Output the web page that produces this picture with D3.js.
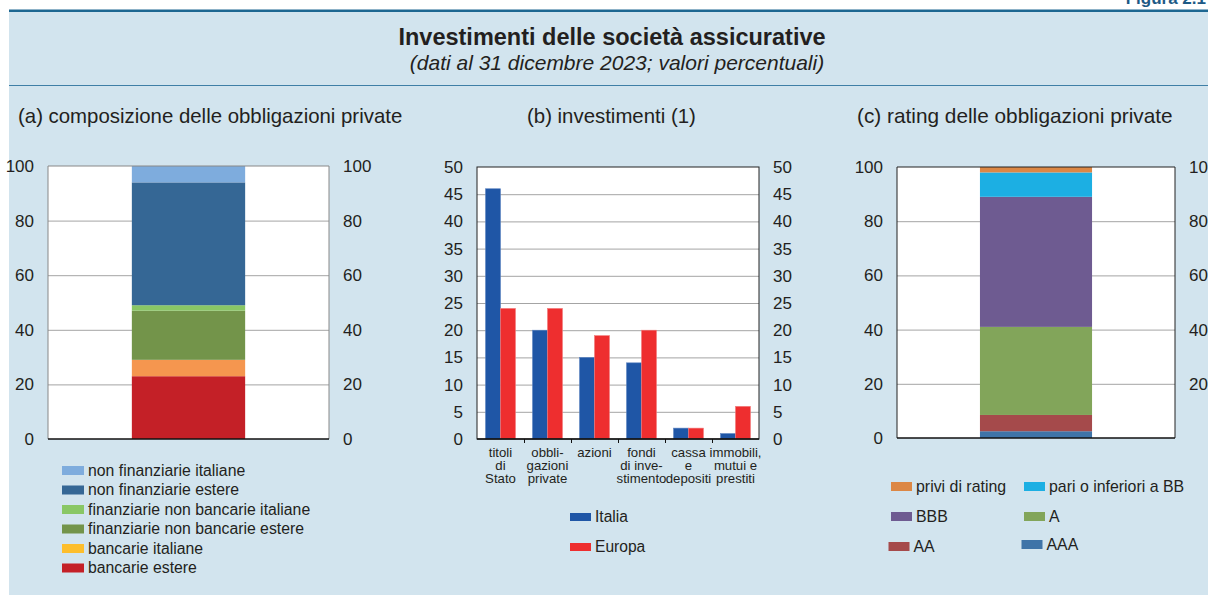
<!DOCTYPE html>
<html>
<head>
<meta charset="utf-8">
<script src="https://cdn.jsdelivr.net/npm/d3@7"></script>
<style>
  body { margin: 0; background: #fff; }
  svg text { font-family: "Liberation Sans", Arial, sans-serif; fill: #231f20; }
</style>
</head>
<body>
<div id="chart"></div>
<script>
// ---- data ----
// (a) composizione delle obbligazioni private (bottom -> top)
var compKeys = ["bancarie estere", "bancarie italiane", "finanziarie non bancarie estere",
    "finanziarie non bancarie italiane", "non finanziarie estere", "non finanziarie italiane"];
var compValues = [23, 6, 18, 2, 45, 6];
var compColors = ["#c42027", "#f5964f", "#73944a", "#89c765", "#356795", "#7eacdd"];
// legend swatches (as printed in the original, top -> bottom)
var compLegend = ["non finanziarie italiane", "non finanziarie estere", "finanziarie non bancarie italiane",
    "finanziarie non bancarie estere", "bancarie italiane", "bancarie estere"];
var compLegendColors = ["#7eacdd", "#356795", "#89c765", "#73944a", "#fdbe2c", "#c42027"];

// (b) investimenti
var invCategories = ["titoli di Stato", "obbligazioni private", "azioni", "fondi di investimento",
    "cassa e depositi", "immobili, mutui e prestiti"];
var invLabels = [["titoli", "di", "Stato"], ["obbli-", "gazioni", "private"], ["azioni"],
    ["fondi", "di inve-", "stimento"], ["cassa", "e", "depositi"], ["immobili,", "mutui e", "prestiti"]];
var invSeries = ["Italia", "Europa"];
var italia = [46, 20, 15, 14, 2, 1];
var europa = [24, 24, 19, 20, 2, 6];
var invColors = ["#1f56a6", "#ee2e2f"];

// (c) rating delle obbligazioni private (bottom -> top)
var ratingKeys = ["AAA", "AA", "A", "BBB", "pari o inferiori a BB", "privi di rating"];
var ratingValues = [2.5, 6, 32.5, 48, 9, 2];
var ratingColors = ["#3f74a8", "#a54a4b", "#82a55a", "#6e5b91", "#1cafe3", "#dc8745"];
var ratingLegend = ["privi di rating", "pari o inferiori a BB", "BBB", "A", "AA", "AAA"];

var ticks100 = [0, 20, 40, 60, 80, 100];
var ticks50 = d3.range(0, 55, 5);

// ---- frame ----
var W = 1208, H = 595;
var svg = d3.select("#chart").append("svg")
    .attr("width", W)
    .attr("height", H);

svg.append("rect").attr("x", 9).attr("y", 11).attr("width", W - 9).attr("height", H - 11)
    .attr("fill", "#d2e4ee");
svg.append("rect").attr("x", 9).attr("y", 9.5).attr("width", W - 9).attr("height", 2.5)
    .attr("fill", "#1d6791");
svg.append("line").attr("x1", 9).attr("x2", W).attr("y1", 85.5).attr("y2", 85.5)
    .attr("stroke", "#3f7fa6").attr("stroke-width", 1);

svg.append("text").attr("x", 1206).attr("y", 4).attr("text-anchor", "end").text("Figura 2.1")
    .style("font-size", "17px").style("font-weight", "bold").style("fill", "#1d5a86");

svg.append("text").attr("x", 612).attr("y", 45).attr("text-anchor", "middle")
    .text("Investimenti delle società assicurative")
    .style("font-size", "23.5px").style("font-weight", "bold");
svg.append("text").attr("x", 617).attr("y", 70).attr("text-anchor", "middle")
    .text("(dati al 31 dicembre 2023; valori percentuali)")
    .style("font-size", "21px").style("font-style", "italic");

svg.append("text").attr("x", 18).attr("y", 123).text("(a) composizione delle obbligazioni private")
    .style("font-size", "20.4px");
svg.append("text").attr("x", 527).attr("y", 123).text("(b) investimenti (1)")
    .style("font-size", "20.4px");
svg.append("text").attr("x", 857).attr("y", 123).text("(c) rating delle obbligazioni private")
    .style("font-size", "20.8px");

// ---- helpers ----
function drawYAxes(g, y, left, right, leftTicks, rightTicks) {
    g.append("g")
        .attr("transform", "translate(" + (left - 14) + ",0)")
        .call(d3.axisLeft(y).tickValues(leftTicks).tickSize(0).tickPadding(0))
        .call(function (a) { a.select(".domain").remove(); })
        .selectAll("text").style("font-size", "17px").attr("fill", "#231f20");
    g.append("g")
        .attr("transform", "translate(" + (right + 14) + ",0)")
        .call(d3.axisRight(y).tickValues(rightTicks).tickSize(0).tickPadding(0))
        .call(function (a) { a.select(".domain").remove(); })
        .selectAll("text").style("font-size", "17px").attr("fill", "#231f20");
}

function drawGrid(g, y, left, right, values) {
    g.selectAll(".grid")
        .data(values)
        .enter().append("line")
        .attr("x1", left).attr("x2", right)
        .attr("y1", function (d) { return y(d) + 0.5; })
        .attr("y2", function (d) { return y(d) + 0.5; })
        .attr("stroke", "#a4a4a4").attr("stroke-width", 1);
}

function stackedPanel(box, keys, values, colors, rightTicks, frameColor) {
    var g = svg.append("g");
    var y = d3.scaleLinear().domain([0, 100]).range([box.bottom, box.top]);
    var x = d3.scaleBand().domain(["tot"]).range([box.left, box.right])
        .paddingInner(0).paddingOuter(0.74);

    g.append("rect").attr("x", box.left).attr("y", box.top)
        .attr("width", box.right - box.left).attr("height", box.bottom - box.top)
        .attr("fill", "#fff");
    drawGrid(g, y, box.left, box.right, [20, 40, 60, 80]);

    var row = {};
    keys.forEach(function (k, i) { row[k] = values[i]; });
    var stacked = d3.stack().keys(keys)([row]);

    g.selectAll(".seg")
        .data(stacked)
        .enter().append("rect")
        .attr("x", x("tot"))
        .attr("width", x.bandwidth())
        .attr("y", function (d) { return y(d[0][1]); })
        .attr("height", function (d) { return y(d[0][0]) - y(d[0][1]); })
        .attr("fill", function (d, i) { return colors[i]; });

    g.append("path")
        .attr("d", "M" + box.left + "," + box.bottom + "V" + box.top + "H" + box.right + "V" + box.bottom)
        .attr("fill", "none").attr("stroke", frameColor).attr("stroke-width", 1);
    g.append("line").attr("x1", box.left).attr("x2", box.right)
        .attr("y1", box.bottom).attr("y2", box.bottom)
        .attr("stroke", "#111").attr("stroke-width", 1.5);

    drawYAxes(g, y, box.left, box.right, ticks100, rightTicks);
}

// ---- (a) ----
stackedPanel({left: 48, right: 329, top: 166, bottom: 439},
    compKeys, compValues, compColors, ticks100, "#888");

var legA = svg.append("g").selectAll("g")
    .data(compLegend)
    .enter().append("g")
    .attr("transform", function (d, i) { return "translate(62," + (470 + i * 19.5) + ")"; });
legA.append("rect").attr("x", 0).attr("y", -4).attr("width", 22).attr("height", 9)
    .attr("fill", function (d, i) { return compLegendColors[i]; });
legA.append("text").attr("x", 26).attr("dy", "0.35em").text(function (d) { return d; })
    .style("font-size", "15.8px");

// ---- (b) ----
(function () {
    var box = {left: 477, right: 759, top: 167, bottom: 439};
    var g = svg.append("g");
    var y = d3.scaleLinear().domain([0, 50]).range([box.bottom, box.top]);
    var x = d3.scaleBand().domain(invCategories).range([box.left, box.right]).padding(0);
    var xs = d3.scaleBand().domain(invSeries).range([0, x.bandwidth()])
        .paddingInner(0).paddingOuter(0.57);

    g.append("rect").attr("x", box.left).attr("y", box.top)
        .attr("width", box.right - box.left).attr("height", box.bottom - box.top)
        .attr("fill", "#fff");
    drawGrid(g, y, box.left, box.right, ticks50.slice(1, -1));

    var rows = invCategories.map(function (c, i) {
        return {cat: c, vals: [{s: "Italia", v: italia[i]}, {s: "Europa", v: europa[i]}]};
    });

    g.selectAll(".grp")
        .data(rows)
        .enter().append("g")
        .attr("transform", function (d) { return "translate(" + x(d.cat) + ",0)"; })
        .selectAll("rect")
        .data(function (d) { return d.vals; })
        .enter().append("rect")
        .attr("x", function (d) { return xs(d.s); })
        .attr("width", xs.bandwidth())
        .attr("y", function (d) { return y(d.v); })
        .attr("height", function (d) { return box.bottom - y(d.v); })
        .attr("fill", function (d, i) { return invColors[i]; })
        .attr("stroke", function (d, i) { return i === 0 ? "#5b83c0" : "#f27a7b"; })
        .attr("stroke-width", 0.6);

    g.append("rect").attr("x", box.left).attr("y", box.top)
        .attr("width", box.right - box.left).attr("height", box.bottom - box.top)
        .attr("fill", "none").attr("stroke", "#222").attr("stroke-width", 1);
    g.append("line").attr("x1", box.left).attr("x2", box.right)
        .attr("y1", box.bottom).attr("y2", box.bottom)
        .attr("stroke", "#111").attr("stroke-width", 1.5);

    // boundary ticks between categories
    g.selectAll(".btick")
        .data(invCategories.slice(1))
        .enter().append("line")
        .attr("x1", function (d) { return x(d) + 0.5; })
        .attr("x2", function (d) { return x(d) + 0.5; })
        .attr("y1", box.bottom).attr("y2", box.bottom + 4)
        .attr("stroke", "#111");

    var lab = g.selectAll(".clab")
        .data(invLabels)
        .enter().append("text")
        .attr("text-anchor", "middle")
        .attr("x", function (d, i) { return x(invCategories[i]) + x.bandwidth() / 2; })
        .attr("y", 457)
        .style("font-size", "13.2px");
    lab.selectAll("tspan")
        .data(function (d) { return d; })
        .enter().append("tspan")
        .attr("x", function () { return d3.select(this.parentNode).attr("x"); })
        .attr("dy", function (d, i) { return i === 0 ? 0 : 13; })
        .text(function (d) { return d; });

    drawYAxes(g, y, box.left, box.right, ticks50, ticks50);

    var leg = svg.append("g").selectAll("g")
        .data(invSeries)
        .enter().append("g")
        .attr("transform", function (d, i) { return "translate(570," + (517 + i * 30) + ")"; });
    leg.append("rect").attr("x", 0).attr("y", -4).attr("width", 21).attr("height", 8)
        .attr("fill", function (d, i) { return invColors[i]; });
    leg.append("text").attr("x", 25).attr("dy", "0.35em").text(function (d) { return d; })
        .style("font-size", "15.6px");
})();

// ---- (c) ----
stackedPanel({left: 897, right: 1175, top: 167, bottom: 438},
    ratingKeys, ratingValues, ratingColors, [20, 40, 60, 80, 100], "#222");

var legC = svg.append("g").selectAll("g")
    .data(ratingLegend)
    .enter().append("g")
    .attr("transform", function (d, i) {
        var col = i % 2, r = Math.floor(i / 2);
        var dx = r === 2 ? -2.5 : 0, dy = (r === 2 && col === 1) ? -2 : 0;
        return "translate(" + (891 + col * 133 + dx) + "," + (486 + r * 30 + dy) + ")";
    });
legC.append("rect").attr("x", 0).attr("y", -4).attr("width", 21).attr("height", 9)
    .attr("fill", function (d) { return ratingColors[ratingKeys.indexOf(d)]; });
legC.append("text").attr("x", 25).attr("dy", "0.35em").text(function (d) { return d; })
    .style("font-size", "15.9px");
</script>
</body>
</html>
